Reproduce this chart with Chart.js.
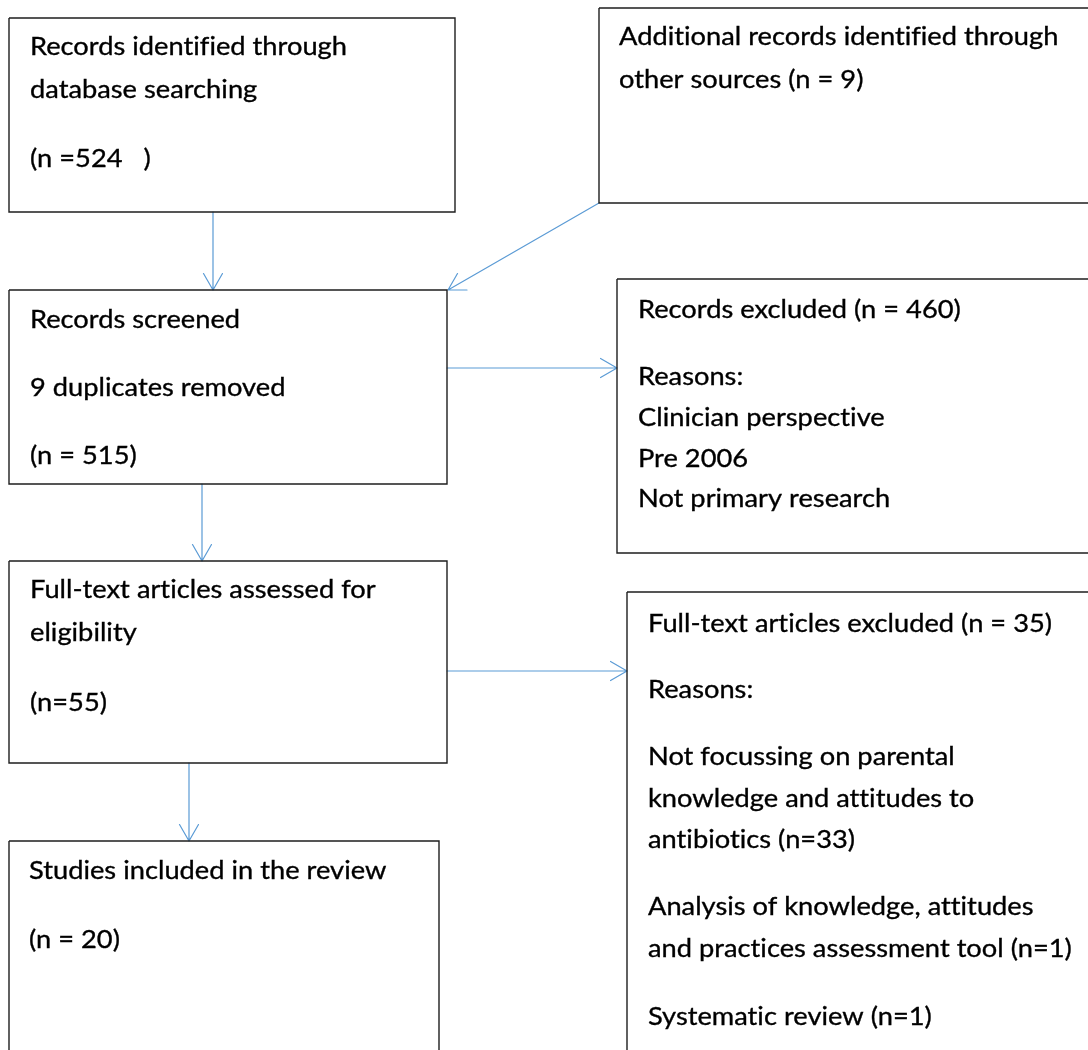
<!DOCTYPE html>
<html>
<head>
<meta charset="utf-8">
<script src="https://cdn.jsdelivr.net/npm/chart.js@4/dist/chart.umd.min.js"></script>
<style>
  html, body { margin: 0; padding: 0; background: #ffffff; }
  #wrap { width: 1088px; height: 1050px; }
</style>
</head>
<body>
<div id="wrap"><canvas id="c" width="1088" height="1050"></canvas></div>
<script>
// ---- Data (counts from the flow diagram) ----
const stageNames = [
  "Records identified through database searching",
  "Additional records identified through other sources",
  "Records screened",
  "Records excluded",
  "Full-text articles assessed for eligibility",
  "Full-text articles excluded",
  "Studies included in the review"
];
const stageCounts = [524, 9, 515, 460, 55, 35, 20];
const duplicatesRemoved = 9;
const screeningReasons = ["Clinician perspective", "Pre 2006", "Not primary research"];
const fullTextReasons = [
  "Not focussing on parental knowledge and attitudes to antibiotics",
  "Analysis of knowledge, attitudes and practices assessment tool",
  "Systematic review"
];
const fullTextReasonCounts = [33, 1, 1];

// ---- Text lines for each box (built from the data) ----
const boxText = [
  ["Records identified through", "database searching", "(n =" + stageCounts[0] + "   )"],
  ["Additional records identified through", "other sources (n = " + stageCounts[1] + ")"],
  ["Records screened", duplicatesRemoved + " duplicates removed", "(n = " + stageCounts[2] + ")"],
  ["Records excluded (n = " + stageCounts[3] + ")", "Reasons:", screeningReasons[0], screeningReasons[1], screeningReasons[2]],
  ["Full-text articles assessed for", "eligibility", "(n=" + stageCounts[4] + ")"],
  ["Full-text articles excluded (n = " + stageCounts[5] + ")", "Reasons:",
   "Not focussing on parental", "knowledge and attitudes to", "antibiotics (n=" + fullTextReasonCounts[0] + ")",
   "Analysis of knowledge, attitudes", "and practices assessment tool (n=" + fullTextReasonCounts[1] + ")",
   "Systematic review (n=" + fullTextReasonCounts[2] + ")"],
  ["Studies included in the review", "(n = " + stageCounts[6] + ")"]
];

// ---- Layout (positions in axis units; kept separate from data) ----
const layout = {
  boxes: [
    { l: 9,   t: 18,  r: 455,  b: 212,  tx: 30,  base: [55, 98, 167] },
    { l: 599, t: 8,   r: 1095, b: 203,  tx: 619, base: [45, 88] },
    { l: 9,   t: 290, r: 447,  b: 484,  tx: 30,  base: [328, 396, 464] },
    { l: 617, t: 279, r: 1095, b: 553,  tx: 638, base: [318, 385, 426, 467, 507] },
    { l: 9,   t: 561, r: 447,  b: 763,  tx: 30,  base: [598, 641, 711] },
    { l: 627, t: 592, r: 1095, b: 1060, tx: 648, base: [632, 698, 765, 807, 848, 915, 957, 1025] },
    { l: 9,   t: 841, r: 439,  b: 1060, tx: 29,  base: [879, 948] }
  ],
  arrows: [
    { from: [213, 212], to: [213, 290] },
    { from: [599, 203], to: [448, 290] },
    { from: [447, 368], to: [617, 368] },
    { from: [202, 484], to: [202, 561] },
    { from: [447, 671], to: [627, 671] },
    { from: [189, 763], to: [189, 841] }
  ],
  headLen: 19,
  headAngle: Math.PI / 6,
  fontSize: 25.5,
  refString: 'Records identified through',
  refWidth: 317
};

const boxColor = '#1e1e1e';
const arrowColor = '#5b9bd5';

const datasets = [];
layout.boxes.forEach(bx => {
  datasets.push({
    data: [{x: bx.l, y: bx.t}, {x: bx.r, y: bx.t}, {x: bx.r, y: bx.b}, {x: bx.l, y: bx.b}, {x: bx.l, y: bx.t}],
    showLine: true, borderColor: boxColor, borderWidth: 1.4, pointRadius: 0,
    fill: false, tension: 0, borderJoinStyle: 'miter'
  });
});
layout.arrows.forEach(a => {
  const [x0, y0] = a.from, [x1, y1] = a.to;
  const ang = Math.atan2(y0 - y1, x0 - x1);
  const armA = {x: x1 + layout.headLen * Math.cos(ang + layout.headAngle), y: y1 + layout.headLen * Math.sin(ang + layout.headAngle)};
  const armB = {x: x1 + layout.headLen * Math.cos(ang - layout.headAngle), y: y1 + layout.headLen * Math.sin(ang - layout.headAngle)};
  datasets.push({
    data: [{x: x0, y: y0}, {x: x1, y: y1}, armA, {x: x1, y: y1}, armB],
    showLine: true, borderColor: arrowColor, borderWidth: 1.2, pointRadius: 0,
    fill: false, tension: 0, borderJoinStyle: 'round', borderCapStyle: 'round'
  });
});

const textPlugin = {
  id: 'boxText',
  afterDatasetsDraw(chart) {
    const ctx = chart.ctx, xs = chart.scales.x, ys = chart.scales.y;
    ctx.save();
    ctx.font = layout.fontSize + 'px Lato';
    try { ctx.letterSpacing = '0.01px'; } catch (e) {}
    const w = ctx.measureText(layout.refString).width;
    const hs = layout.refWidth / w;
    ctx.fillStyle = '#000000';
    ctx.strokeStyle = '#000000';
    ctx.lineWidth = 0.35;
    ctx.textBaseline = 'alphabetic';
    ctx.textAlign = 'left';
    layout.boxes.forEach((bx, i) => {
      boxText[i].forEach((line, j) => {
        const px = xs.getPixelForValue(bx.tx), py = ys.getPixelForValue(bx.base[j]);
        ctx.save();
        ctx.translate(px, py);
        ctx.scale(hs, 1);
        ctx.fillText(line, 0, 0);
        ctx.strokeText(line, 0, 0);
        ctx.restore();
      });
    });
    ctx.restore();
  }
};

new Chart(document.getElementById('c'), {
  type: 'scatter',
  data: { datasets },
  options: {
    responsive: false,
    animation: false,
    events: [],
    layout: { padding: 0 },
    plugins: { legend: { display: false }, tooltip: { enabled: false }, title: { display: false } },
    scales: {
      x: { type: 'linear', min: 0, max: 1088, display: false },
      y: { type: 'linear', min: 0, max: 1050, reverse: true, display: false }
    }
  },
  plugins: [textPlugin]
});
</script>
</body>
</html>
